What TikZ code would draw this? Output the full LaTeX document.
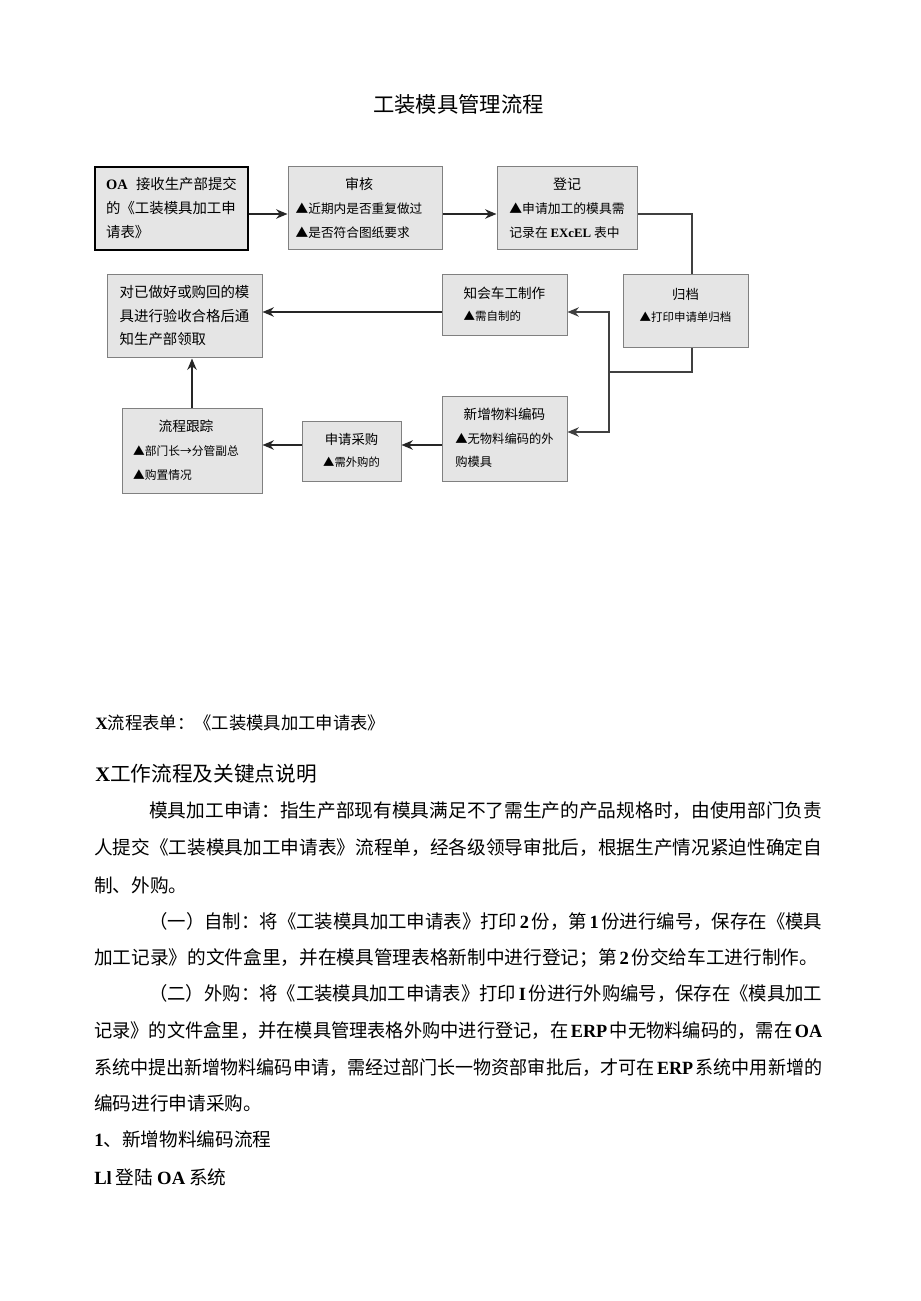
\documentclass[tikz,border=0pt]{standalone}
\usepackage{graphicx}
\usepackage{fontspec}
\setmainfont{Noto Sans CJK SC}
\newfontfamily\lat{Liberation Serif}
\usetikzlibrary{arrows.meta}
\XeTeXlinebreaklocale "zh"
\XeTeXlinebreakskip=0pt plus 2pt minus 1pt
\newcommand\myfs[1]{\fontsize{#1}{#1}\selectfont}
\newcommand\latb[1]{{\lat\bfseries #1}}
\newcommand\fitto[2]{\resizebox{#1}{\height}{#2}}
\tikzset{
  box/.style={draw=black!50, line width=0.75pt, fill=black!10, inner sep=0pt, anchor=center},
  oabox/.style={box, draw=black, line width=1.5pt},
  arr/.style={line width=1.4pt, draw=black!85, -{Stealth[length=8.5pt,width=7pt]}},
  wire/.style={line width=1.1pt, draw=black!75},
  warr/.style={wire, -{Stealth[length=8.5pt,width=7pt]}},
  bodyline/.style={anchor=base west, inner sep=0pt, font=\myfs{14}},
  ttl/.style={anchor=center, inner sep=0pt, font=\myfs{16}}
}
\begin{document}
\begin{tikzpicture}[x=0.75pt,y=-0.75pt]
\fill[white] (0,0) rectangle (920,1301);
\useasboundingbox (0,0) rectangle (920,1301);

% title
\node[ttl] (title) at (458.5,104) {工装模具管理流程};

% boxes
\node[oabox, minimum width=114.75pt, minimum height=62.25pt] (b1) at (171.5,208.5)
 {\fontsize{10.8}{18}\selectfont\begin{tabular}{@{}l@{}}
  \makebox[98pt][s]{\latb{OA}\hskip 5pt plus 3pt 接收生产部提交}\\
  \makebox[98pt][s]{的《工装模具加工申}\\
  请表》
 \end{tabular}};

\node[box, minimum width=115.5pt, minimum height=62.25pt] (b2) at (365,208.5)
 {\fontsize{9.5}{18}\selectfont\begin{tabular}{@{}l@{}}
  \multicolumn{1}{@{}c@{}}{\fontsize{10.5}{18}\selectfont 审核}\\
  ▲近期内是否重复做过\\
  ▲是否符合图纸要求
 \end{tabular}\hspace*{9pt}};

\node[box, minimum width=105pt, minimum height=62.25pt] (b3) at (567,208.5)
 {\fontsize{9.6}{18}\selectfont\begin{tabular}{@{}l@{}}
  \multicolumn{1}{@{}c@{}}{\fontsize{10.5}{18}\selectfont 登记}\\
  ▲申请加工的模具需\\
  记录在 \latb{EXcEL} 表中
 \end{tabular}};

\node[box, minimum width=93.75pt, minimum height=54.75pt] (b4) at (685.5,311.5)
 {\fontsize{8.6}{16.5}\selectfont\begin{tabular}{@{}l@{}}
  \multicolumn{1}{@{}c@{}}{\fontsize{10}{16.5}\selectfont 归档}\\
  ▲打印申请单归档\\[8pt]
 \end{tabular}};

\node[box, minimum width=93.75pt, minimum height=45.75pt] (b5) at (504.5,305.5)
 {\fontsize{8.6}{16.5}\selectfont\begin{tabular}{@{}l@{}}
  \multicolumn{1}{@{}c@{}}{\fontsize{10.2}{16.5}\selectfont 知会车工制作}\\
  ▲需自制的
 \end{tabular}};

\node[box, minimum width=116.25pt, minimum height=62.25pt] (b6) at (184.5,316.5)
 {\fontsize{10.8}{17.5}\selectfont\begin{tabular}{@{}l@{}}
  对已做好或购回的模\\
  具进行验收合格后通\\
  知生产部领取
 \end{tabular}};

\node[box, minimum width=105pt, minimum height=63.75pt] (b7) at (192,450.5)
 {\fontsize{8.8}{18}\selectfont\begin{tabular}{@{}l@{}}
  \multicolumn{1}{@{}c@{}}{\fontsize{10.3}{18}\selectfont 流程跟踪}\\
  ▲部门长→分管副总\\
  ▲购置情况
 \end{tabular}\hspace*{9pt}};

\node[box, minimum width=74.25pt, minimum height=45pt] (b8) at (351.5,451)
 {\fontsize{8.5}{17}\selectfont\begin{tabular}{@{}l@{}}
  \multicolumn{1}{@{}c@{}}{\fontsize{10}{17}\selectfont 申请采购}\\
  ▲需外购的
 \end{tabular}};

\node[box, minimum width=93.75pt, minimum height=63.75pt] (b9) at (504.5,438.5)
 {\fontsize{9.2}{17.5}\selectfont\begin{tabular}{@{}l@{}}
  \multicolumn{1}{@{}c@{}}{\fontsize{10.2}{17.5}\selectfont 新增物料编码}\\
  ▲无物料编码的外\\
  购模具
 \end{tabular}};

% connectors
\coordinate (r1) at (0,214);
\coordinate (r2) at (0,312);
\coordinate (r3) at (0,432);
\coordinate (r4) at (0,445);
\coordinate (k1) at (692,0);
\coordinate (j) at (609,372);

\draw[arr] (b1.east |- r1) -- (b2.west |- r1);
\draw[arr] (b2.east |- r1) -- (b3.west |- r1);
\draw[wire] (b3.east |- r1) -| (k1 |- b4.north);
\draw[wire] (k1 |- b4.south) |- (j);
\draw[warr] (j) |- (b5.east |- r2);
\draw[warr] (j) |- (b9.east |- r3);
\draw[arr] (b5.west |- r2) -- (b6.east |- r2);
\draw[arr] (b9.west |- r4) -- (b8.east |- r4);
\draw[arr] (b8.west |- r4) -- (b7.east |- r4);
\draw[arr] (b7.north) -- (b7.north |- b6.south);

% body text
\node[bodyline, font=\myfs{13}] (l1) at (95,729) {\latb{X}流程表单：《工装模具加工申请表》};
\node[bodyline, font=\myfs{15.5}] (l2) at (95,781) {\latb{X}工作流程及关键点说明};
\node[bodyline] (l3) at (149,817) {\fitto{504.75pt}{模具加工申请：指生产部现有模具满足不了需生产的产品规格时，由使用部门负责}};
\node[bodyline] (l4) at (94,854) {\fitto{546pt}{人提交《工装模具加工申请表》流程单，经各级领导审批后，根据生产情况紧迫性确定自}};
\node[bodyline] (l5) at (94,892) {制、外购。};
\node[bodyline] (l6) at (149,928) {\fitto{504.75pt}{（一）自制：将《工装模具加工申请表》打印\hspace{2pt}\latb{2}\hspace{2pt}份，第\hspace{2pt}\latb{1}\hspace{2pt}份进行编号，保存在《模具}};
\node[bodyline] (l7) at (94,964) {加工记录》的文件盒里，并在模具管理表格新制中进行登记；第\hspace{2pt}\latb{2}\hspace{2pt}份交给车工进行制作。};
\node[bodyline] (l8) at (149,1000) {\fitto{504.75pt}{（二）外购：将《工装模具加工申请表》打印\hspace{2pt}\latb{I}\hspace{2pt}份进行外购编号，保存在《模具加工}};
\node[bodyline] (l9) at (94,1037) {\fitto{546pt}{记录》的文件盒里，并在模具管理表格外购中进行登记，在\hspace{2pt}\latb{ERP}\hspace{2pt}中无物料编码的，需在\hspace{2pt}\latb{OA}}};
\node[bodyline] (l10) at (94,1074) {\fitto{546pt}{系统中提出新增物料编码申请，需经过部门长一物资部审批后，才可在\hspace{2pt}\latb{ERP}\hspace{2pt}系统中用新增的}};
\node[bodyline] (l11) at (94,1110) {编码进行申请采购。};
\node[bodyline] (l12) at (94,1146) {\latb{1}、新增物料编码流程};
\node[bodyline] (l13) at (94,1184) {\latb{Ll}\hspace{3pt}登陆\hspace{3pt}\latb{OA}\hspace{3pt}系统};
\end{tikzpicture}
\end{document}
